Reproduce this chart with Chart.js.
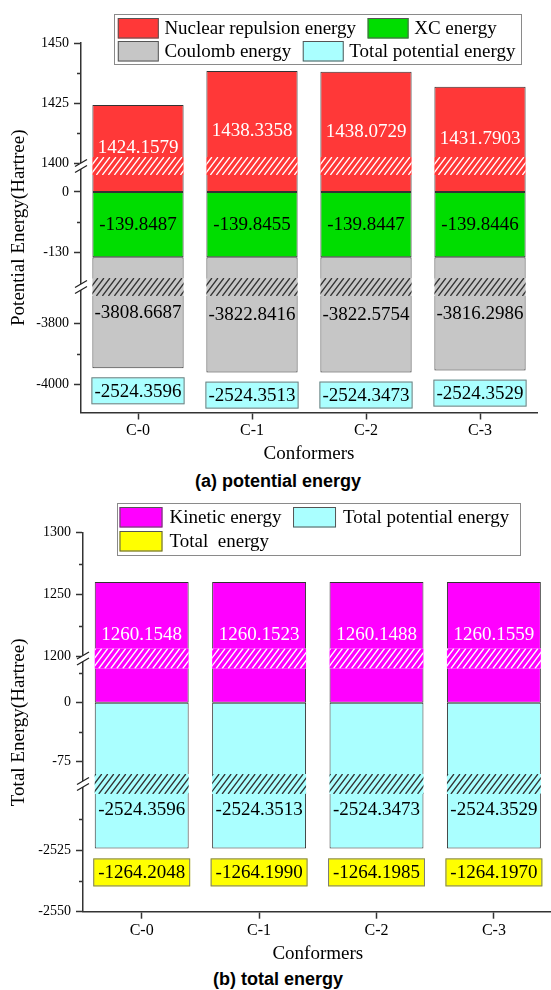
<!DOCTYPE html>
<html>
<head>
<meta charset="utf-8">
<script src="https://cdn.jsdelivr.net/npm/chart.js@4.4.1/dist/chart.umd.min.js"></script>
<style>
body { margin: 0; background: #fff; width: 551px; height: 990px; overflow: hidden; position: relative; }
canvas { position: absolute; left: 0; }
#chartA { top: 0; }
#chartB { top: 490px; }
.caption { position: absolute; left: 0; width: 556px; text-align: center; color: #000;
  font: bold 18px "Liberation Sans", Arial, sans-serif; line-height: 21px; }
</style>
</head>
<body>
<canvas id="chartA" width="551" height="465" style="width:551px;height:465px"></canvas>
<div class="caption" style="top:471px">(a) potential energy</div>
<canvas id="chartB" width="556" height="475" style="width:556px;height:475px"></canvas>
<div class="caption" style="top:969px">(b) total energy</div>
<script>
var conformers = ["C-0", "C-1", "C-2", "C-3"]

// (a) potential energy parts
var nuclearEnergy = [1424.1579, 1438.3358, 1438.0729, 1431.7903]
var xcEnergy = [-139.8487, -139.8455, -139.8447, -139.8446]
var coulombEnergy = [-3808.6687, -3822.8416, -3822.5754, -3816.2986]
var totalPotential = [-2524.3596, -2524.3513, -2524.3473, -2524.3529]

// (b) total energy parts
var kineticEnergy = [1260.1548, 1260.1523, 1260.1488, 1260.1559]
var totalEnergy = [-1264.2048, -1264.1990, -1264.1985, -1264.1970]

var ticksA = [1450, 1425, 1400, 0, -130, -3800, -4000]
var minorA = [1437.5, 1412.5, -65, -3900]
var ticksB = [1300, 1250, 1200, 0, -75, -2525, -2550]
var minorB = [1275, 1225, 37.5, -37.5, -2512.5, -2537.5]

var namesA = ["Nuclear repulsion energy", "XC energy", "Coulomb energy", "Total potential energy"]
var namesB = ["Kinetic energy", "Total potential energy", "Total  energy"]

var serif = '"Liberation Serif", "Times New Roman", serif'
var red = "#ff3838", green = "#00dd00", gray = "#c6c6c6", cyan = "#aaffff", magenta = "#ff00ff", yellow = "#ffff00"

// broken axis: each piece maps values >= from to pixels above the x axis
function makeMap(pieces) {
    return function (v) {
        var p = pieces.find(function (q) { return v >= q.from })
        return p.at + (v - p.base) * p.k
    }
}

var mapA = makeMap([
    { from: 1000, base: 1400, at: 249.5, k: 2.4 },
    { from: -1000, base: 0, at: 220.5, k: 0.467 },
    { from: -Infinity, base: -3800, at: 89.5, k: 0.305 }
])
var mapB = makeMap([
    { from: 1000, base: 1200, at: 255, k: 1.24 },
    { from: -1000, base: 0, at: 209, k: 0.787 },
    { from: -Infinity, base: -2525, at: 61.7, k: 2.47 }
])

var brokenPlugin = {
    id: 'broken',
    afterDatasetsDraw: function (chart, args, o) {
        var ctx = chart.ctx, y = chart.scales.y
        // hatched band where the axis is cut
        o.breaks.forEach(function (b) {
            var py = y.getPixelForValue(b.at)
            var top = py - o.band / 2, h = o.band
            chart.data.datasets.forEach(function (ds, di) {
                chart.getDatasetMeta(di).data.forEach(function (bar) {
                    var t = Math.min(bar.y, bar.base), bt = Math.max(bar.y, bar.base)
                    if (t > py || bt < py) return
                    var l = bar.x - bar.width / 2, w = bar.width
                    ctx.save()
                    ctx.fillStyle = "#fff"
                    ctx.fillRect(l - 1.5, top, w + 3, h)
                    ctx.fillStyle = ds.backgroundColor
                    ctx.fillRect(l, top, w, h)
                    ctx.beginPath(); ctx.rect(l, top, w, h); ctx.clip()
                    ctx.strokeStyle = b.color; ctx.lineWidth = 1.3
                    ctx.beginPath()
                    for (var x = l - 20; x < l + w + 5; x += 6) {
                        ctx.moveTo(x, top + h); ctx.lineTo(x + h * 0.75, top)
                    }
                    ctx.stroke()
                    ctx.restore()
                })
            })
        })
        // value labels inside the bars
        ctx.save()
        ctx.font = '19px ' + serif
        ctx.textAlign = 'center'; ctx.textBaseline = 'middle'
        chart.data.datasets.forEach(function (ds, di) {
            chart.getDatasetMeta(di).data.forEach(function (bar, i) {
                ctx.fillStyle = ds.labelColor
                ctx.fillText(ds.values[i].toFixed(4), bar.x, (bar.y + bar.base) / 2 + (ds.labelShift || 0))
            })
        })
        // boxed totals under the bars
        var bx = o.boxes
        chart.getDatasetMeta(bx.under).data.forEach(function (bar, i) {
            var bottom = Math.max(bar.y, bar.base) + bx.gap
            var w = bar.width + bx.grow
            ctx.fillStyle = bx.fill
            ctx.fillRect(bar.x - w / 2, bottom, w, bx.height)
            ctx.strokeStyle = "#7a7a7a"; ctx.lineWidth = 1
            ctx.strokeRect(bar.x - w / 2 + 0.5, bottom + 0.5, w - 1, bx.height - 1)
            ctx.fillStyle = "#000"
            ctx.fillText(bx.values[i].toFixed(4), bar.x, bottom + bx.height / 2 + 1)
        })
        ctx.restore()
    },
    afterDraw: function (chart, args, o) {
        var ctx = chart.ctx, y = chart.scales.y, ax = chart.chartArea.left
        ctx.save()
        // minor ticks
        ctx.strokeStyle = "#333"; ctx.lineWidth = 1.5
        ctx.beginPath()
        o.minor.forEach(function (v) {
            var py = Math.round(y.getPixelForValue(o.map(v))) + 0.5
            ctx.moveTo(ax - 4, py); ctx.lineTo(ax, py)
        })
        ctx.stroke()
        // break marks on the axis
        o.breaks.forEach(function (b) {
            var py = y.getPixelForValue(b.at)
            ctx.fillStyle = "#fff"
            ctx.fillRect(ax - 2, py - 3, 4, 6)
            ctx.strokeStyle = "#222"; ctx.lineWidth = 1.3
            ctx.beginPath()
            ;[-3, 3].forEach(function (s) {
                ctx.moveTo(ax - 6, py + s + 3.5); ctx.lineTo(ax + 6, py + s - 3.5)
            })
            ctx.stroke()
        })
        // legend
        var L = o.legend
        ctx.strokeStyle = "#8a8a8a"; ctx.lineWidth = 1
        ctx.strokeRect(L.box[0] + 0.5, L.box[1] + 0.5, L.box[2], L.box[3])
        ctx.font = '19px ' + serif
        ctx.textAlign = 'left'; ctx.textBaseline = 'middle'
        L.rows.forEach(function (row, r) {
            var x = L.x, top = L.tops[r]
            row.forEach(function (idx) {
                ctx.fillStyle = L.colors[idx]
                ctx.fillRect(x, top, L.sw, L.sh)
                ctx.strokeStyle = "#555"
                ctx.strokeRect(x + 0.5, top + 0.5, L.sw - 1, L.sh - 1)
                x += L.sw + L.gap
                ctx.fillStyle = "#000"
                ctx.fillText(L.names[idx], x, top + L.sh / 2 + 1)
                x += ctx.measureText(L.names[idx]).width + 11.5
            })
        })
        ctx.restore()
    }
}

function brokenChart(id, c) {
    return new Chart(document.getElementById(id), {
        type: 'bar',
        data: { labels: conformers, datasets: c.datasets },
        options: {
            responsive: false,
            animation: false,
            events: [],
            layout: { padding: { left: 0, top: 43, right: c.padRight, bottom: 0 } },
            datasets: { bar: { grouped: false, barPercentage: 0.8, categoryPercentage: 1,
                borderWidth: 1, borderColor: "#333", borderSkipped: false } },
            plugins: {
                legend: { display: false },
                tooltip: { enabled: false },
                broken: c.broken
            },
            scales: {
                x: {
                    afterFit: function (s) { s.height = c.xHeight },
                    ticks: { font: { family: serif, size: 16 }, color: "#000", padding: 2 },
                    grid: { offset: false, drawOnChartArea: false, tickLength: 7, tickColor: "#333", tickWidth: 1.5 },
                    border: { color: "#333", width: 1.5 },
                    title: { display: true, text: "Conformers", color: "#000",
                        font: { family: serif, size: 19 }, padding: { top: 0, bottom: 0 } }
                },
                y: {
                    min: 0, max: c.plotH, bounds: 'data',
                    afterBuildTicks: function (s) {
                        s.ticks = c.ticks.map(function (v) { return { value: c.broken.map(v), real: v } })
                    },
                    afterFit: function (s) { s.width = c.axisLeft },
                    ticks: { autoSkip: false, color: "#000", padding: 5, font: { family: serif, size: 14 },
                        callback: function (v, i, t) { return String(t[i].real) } },
                    grid: { drawOnChartArea: false, tickLength: 7, tickColor: "#333", tickWidth: 1.5 },
                    border: { color: "#333", width: 1.5 },
                    title: { display: true, text: c.yTitle, color: "#000",
                        font: { family: serif, size: 19 }, padding: { top: 8 } }
                }
            }
        },
        plugins: [brokenPlugin]
    })
}

brokenChart("chartA", {
    plotH: 369.5, xHeight: 52.5, axisLeft: 81, padRight: 14,
    ticks: ticksA,
    yTitle: "Potential Energy(Hartree)",
    datasets: [
        { label: namesA[0], values: nuclearEnergy, labelColor: "#fff", backgroundColor: red,
          data: nuclearEnergy.map(function (v) { return [mapA(0), mapA(v)] }) },
        { label: namesA[1], values: xcEnergy, labelColor: "#000", backgroundColor: green,
          data: xcEnergy.map(function (v) { return [mapA(0), mapA(v)] }) },
        { label: namesA[2], values: coulombEnergy, labelColor: "#000", backgroundColor: gray,
          data: coulombEnergy.map(function (v, i) { return [mapA(xcEnergy[i]), mapA(xcEnergy[i] + v)] }) }
    ],
    broken: {
        map: mapA, minor: minorA, band: 18,
        breaks: [{ at: 246.5, color: "#fff" }, { at: 125.5, color: "#333" }],
        boxes: { under: 2, values: totalPotential, fill: cyan, gap: 9, height: 27, grow: 2 },
        legend: { box: [114, 14, 407, 50], x: 117.8, tops: [18, 41], sw: 41, sh: 20.5, gap: 5.6,
            rows: [[0, 1], [2, 3]], names: namesA, colors: [red, green, gray, cyan] }
    }
})

brokenChart("chartB", {
    plotH: 378.7, xHeight: 53.3, axisLeft: 83, padRight: 3.4,
    ticks: ticksB,
    yTitle: "Total Energy(Hartree)",
    datasets: [
        { label: namesB[0], values: kineticEnergy, labelColor: "#fff", labelShift: -7, backgroundColor: magenta,
          data: kineticEnergy.map(function (v) { return [mapB(0), mapB(v)] }) },
        { label: namesB[1], values: totalPotential, labelColor: "#000", labelShift: 34.5, backgroundColor: cyan,
          data: totalPotential.map(function (v) { return [mapB(0), mapB(v)] }) }
    ],
    broken: {
        map: mapB, minor: minorB, band: 20,
        breaks: [{ at: 253.2, color: "#fff" }, { at: 127.7, color: "#333" }],
        boxes: { under: 1, values: totalEnergy, fill: yellow, gap: 10, height: 28, grow: 3 },
        legend: { box: [117, 13, 403, 52], x: 119.5, tops: [17, 41], sw: 43, sh: 20.5, gap: 7,
            rows: [[0, 1], [2]], names: namesB, colors: [magenta, cyan, yellow] }
    }
})
</script>
</body>
</html>
